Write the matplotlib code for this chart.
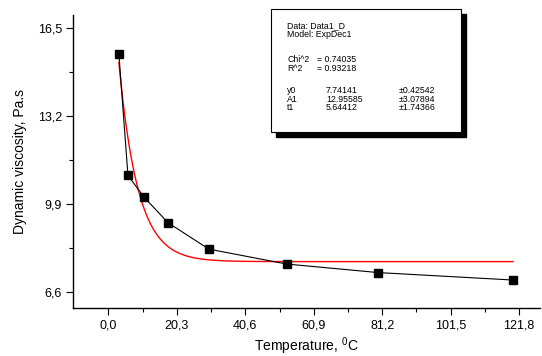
import numpy as np
import matplotlib
matplotlib.use("Agg")
import matplotlib.pyplot as plt
from matplotlib.ticker import FixedLocator
from matplotlib.patches import Rectangle

plt.rcParams['font.family'] = ['Liberation Sans', 'DejaVu Sans']
plt.rcParams['mathtext.fontset'] = 'custom'
plt.rcParams['mathtext.rm'] = 'Liberation Sans'

# Data
temperature = [3.1, 5.8, 10.5, 17.7, 29.8, 52.9, 80.0, 120.0]
viscosity = [15.54, 10.98, 10.17, 9.20, 8.21, 7.65, 7.33, 7.05]

# Fit parameters (ExpDec1: y = A1*exp(-x/t1) + y0)
y0 = 7.74141
A1 = 12.95585
t1 = 5.64412

x_ticks = [0.0, 20.3, 40.6, 60.9, 81.2, 101.5, 121.8]
y_ticks = [6.6, 9.9, 13.2, 16.5]

fig = plt.figure(figsize=(5.42, 3.56), dpi=100)
ax = fig.add_axes([73/542, 1-308/356, (540-73)/542, (308-15)/356])

xf = np.linspace(temperature[0], temperature[-1], 400)
yf = A1*np.exp(-xf/t1) + y0
ax.plot(xf, yf, color='#ff0000', lw=1.0, zorder=2)
ax.plot(temperature, viscosity, color='black', lw=0.8, marker='s',
        markersize=6, markerfacecolor='black', markeredgecolor='black', zorder=3)

ax.set_xlim(-10.5, 128)
ax.set_ylim(6.0, 17.0)
for s in ['top', 'right']:
    ax.spines[s].set_visible(False)
for s in ['left', 'bottom']:
    ax.spines[s].set_linewidth(1.0)

ax.xaxis.set_major_locator(FixedLocator(x_ticks))
ax.yaxis.set_major_locator(FixedLocator(y_ticks))
ax.xaxis.set_minor_locator(FixedLocator([x + 10.15 for x in x_ticks[:-1]]))
ax.yaxis.set_minor_locator(FixedLocator([y + 1.65 for y in y_ticks[:-1]]))
ax.set_xticklabels([f"{v:.1f}".replace('.', ',') for v in x_ticks])
ax.set_yticklabels([f"{v:.1f}".replace('.', ',') for v in y_ticks])
ax.tick_params(axis='both', which='major', direction='out', length=5, width=0.8, labelsize=9, pad=3)
ax.tick_params(axis='both', which='minor', direction='out', length=3, width=0.8)

ax.set_xlabel("Temperature, $^{\\mathregular{0}}$C", fontsize=10, labelpad=3)
ax.set_ylabel("Dynamic viscosity, Pa.s", fontsize=10, labelpad=8)

# Info box with shadow
bx0, by0, bx1, by1 = 271, 8.5, 461, 131.5
W, H = 542, 356
shadow = Rectangle(((bx0+5)/W, 1-(by1+5)/H), (bx1-bx0)/W, (by1-by0)/H,
                   transform=fig.transFigure, facecolor='black', edgecolor='black', zorder=5)
box = Rectangle((bx0/W, 1-by1/H), (bx1-bx0)/W, (by1-by0)/H,
                transform=fig.transFigure, facecolor='white', edgecolor='black', lw=0.8, zorder=6)
fig.patches.extend([shadow, box])

fs = 6.3
def t(x, y, s):
    fig.text(x/W, 1-y/H, s, fontsize=fs, va='center', ha='left', zorder=7)

t(287, 25.3, "Data: Data1_D")
t(287, 34.7, "Model: ExpDec1")
t(287, 60, "Chi^2")
t(317, 60, "= 0.74035")
t(287, 68.3, "R^2")
t(317, 68.3, "= 0.93218")
rows = [("y0", "7.74141", "±0.42542", 90.7),
        ("A1", "12.95585", "±3.07894", 99.0),
        ("t1", "5.64412", "±1.74366", 107.3)]
for a, b, c, y in rows:
    t(287, y, a)
    t(326, y, b)
    t(399, y, c)

fig.savefig("out.png", dpi=100)
